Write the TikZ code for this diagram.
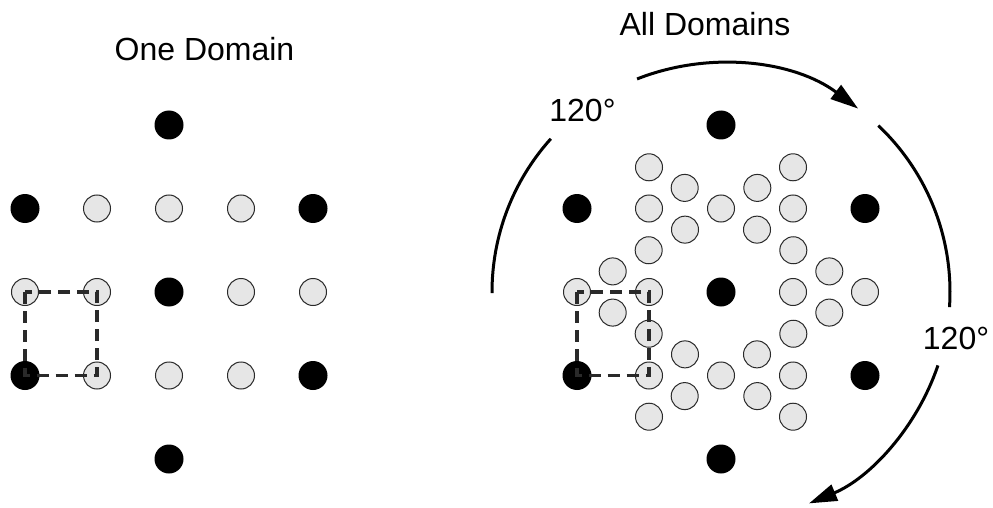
\documentclass[tikz,border=0pt]{standalone}
\usepackage{fontspec}
\setmainfont{Liberation Sans}
\usetikzlibrary{arrows.meta}
\definecolor{sitegrey}{HTML}{E6E6E6}
\definecolor{edgegrey}{HTML}{2A2A2A}
\definecolor{boxgrey}{HTML}{2A2A2A}
\begin{document}
\begin{tikzpicture}[x=1pt,y=1pt,
  host/.style={circle,fill=black,minimum size=29pt,inner sep=0pt},
  site/.style={circle,draw=edgegrey,line width=1pt,fill=sitegrey,minimum size=27pt,inner sep=0pt},
  cellbox/.style={draw=boxgrey,line width=3.2pt,dash pattern=on 12pt off 7pt},
  turn/.style={line width=3pt},
  tip/.style={-{Triangle[length=28pt,width=17pt]}},
  caption/.style={font=\fontsize{32}{38}\selectfont,anchor=base,inner sep=0pt}
]
\useasboundingbox (0,0) rectangle (993,507);

% lattice centres
\coordinate (L) at (169,215);
\coordinate (R) at (721,215);

% host atoms (black) of both lattices
\foreach \c in {L,R}{
  \foreach \n/\x/\y in {c/0/0, t/0/167, b/0/-167, tl/-144/83.5, tr/144/83.5, bl/-144/-83.5, br/144/-83.5}
    \node[host] (\c-h-\n) at ([shift={(\x,\y)}]\c) {};
}

% one domain of adsorbed sites
\foreach \n/\x/\y in {tl/-72/83.5, tm/0/83.5, tr/72/83.5,
                      ml2/-144/0, ml/-72/0, mr/72/0, mr2/144/0,
                      bl/-72/-83.5, bm/0/-83.5, br/72/-83.5}
  \node[site] (L-\n) at ([shift={(\x,\y)}]L) {};

% three domains rotated by 120 degrees
\foreach \a in {0,120,240}{
  \foreach \n/\x/\y in {tl/-72/83.5, tm/0/83.5, tr/72/83.5,
                        ml2/-144/0, ml/-72/0, mr/72/0, mr2/144/0,
                        bl/-72/-83.5, bm/0/-83.5, br/72/-83.5}
    \node[site] (R-\a-\n) at ([shift={({\x*cos(\a)-\y*sin(\a)},{\x*sin(\a)+\y*cos(\a)})}]R) {};
}

% unit cells
\draw[cellbox] (L-ml2.center) rectangle (L-bl.center);
\draw[cellbox] (R-0-ml2.center) rectangle (R-0-bl.center);

% rotation arrows
\coordinate (arcA) at ([shift={(180.3:229)}]R);
\coordinate (arcB) at ([shift={(111.5:229)}]R);
\coordinate (arcC) at ([shift={(46.6:229)}]R);
\coordinate (arcD) at ([shift={(-18.7:229)}]R);
\draw[turn] (arcA) arc[start angle=180.3, end angle=138, radius=229];
\draw[turn,tip] (arcB) arc[start angle=111.5, end angle=53.2, radius=229];
\draw[turn] (arcC) arc[start angle=46.6, end angle=-3.8, radius=229];
\draw[turn,tip] (arcD) arc[start angle=-18.7, end angle=-67.4, radius=229];

% captions
\node[caption] (one) at (204.5,446) {One Domain};
\node[caption] (all) at (705,471) {All Domains};
\node[caption] (angA) at (582.5,385) {120°};
\node[caption] (angB) at (956,158) {120°};
\end{tikzpicture}
\end{document}
